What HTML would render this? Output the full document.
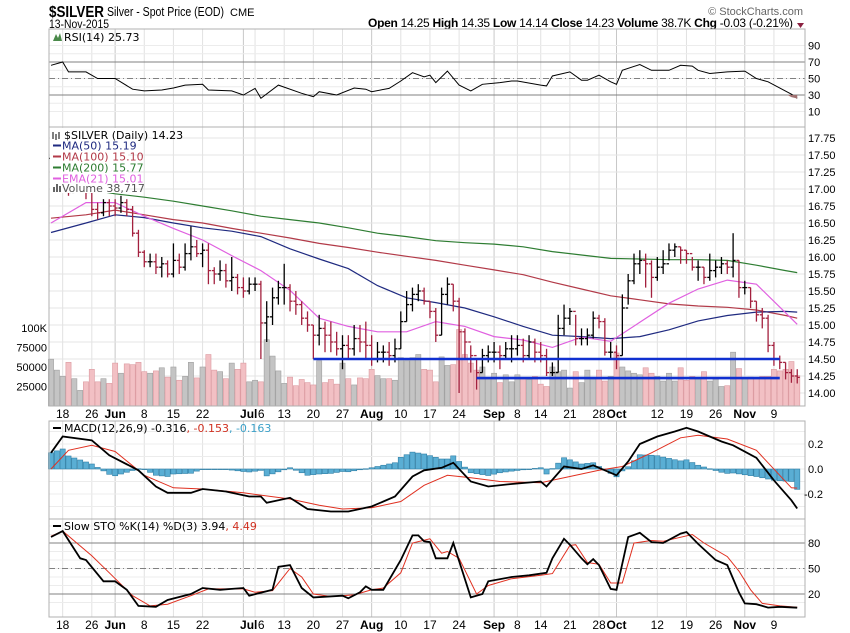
<!DOCTYPE html>
<html><head><meta charset="utf-8"><style>
html,body{margin:0;padding:0;background:#fff;}
svg{display:block;font-family:"Liberation Sans",Arial,sans-serif;}
.lg{font-family:"DejaVu Sans",Verdana,sans-serif;font-size:11px;}
</style></head><body>
<svg id="chart" width="850" height="633" viewBox="0 0 850 633">
<rect x="0" y="0" width="850" height="633" fill="#fff"/>
<text x="49" y="17" font-size="16" font-weight="bold" textLength="55" lengthAdjust="spacingAndGlyphs">$SILVER</text>
<text x="107" y="16" font-size="13" textLength="117" lengthAdjust="spacingAndGlyphs">Silver - Spot Price (EOD)</text>
<text x="230" y="16" font-size="11">CME</text>
<text x="49" y="28" font-size="12" textLength="60" lengthAdjust="spacingAndGlyphs">13-Nov-2015</text>
<text x="803" y="15" font-size="11" fill="#666" text-anchor="end">© StockCharts.com</text>
<text x="368" y="27" font-size="12" textLength="425" lengthAdjust="spacing"><tspan font-weight="bold">Open</tspan> 14.25 <tspan font-weight="bold">High</tspan> 14.35 <tspan font-weight="bold">Low</tspan> 14.14 <tspan font-weight="bold">Close</tspan> 14.23 <tspan font-weight="bold">Volume</tspan> 38.7K <tspan font-weight="bold">Chg</tspan> -0.03 (-0.21%)</text>
<path d="M797 23 L804 23 L800.5 28 Z" fill="#8b2040"/>
</svg>
<script>
// ---- data ----
const closes=[17.45,17.55,17.6,16.95,17.1,17.1,16.95,16.7,16.65,16.8,16.75,
16.72,16.8,16.7,16.35,16.07,15.93,15.93,15.85,15.9,15.75,15.95,15.85,16.05,16.15,16.05,16.1,15.8,15.75,15.8,15.65,15.7,15.55,
15.5,15.6,15.6,15.03,15.12,15.4,15.55,15.55,15.35,15.3,15.1,15.0,14.85,14.95,14.85,14.75,14.65,14.7,14.65,14.8,14.75,14.7,
14.5,14.6,14.6,14.55,14.65,15.05,15.3,15.45,15.5,15.35,15.2,14.85,15.45,15.6,15.35,14.9,14.75,14.55,14.3,14.55,14.6,
14.6,14.55,14.65,14.65,14.7,14.55,14.75,14.6,14.55,14.3,14.3,14.95,15.1,15.2,14.8,14.8,14.85,15.1,15.05,14.6,14.6,
14.55,15.25,15.65,15.9,15.95,15.9,15.7,15.85,15.9,16.1,16.15,16.1,16.05,15.85,15.85,15.7,15.8,15.85,15.9,15.85,15.95,15.55,
15.55,15.35,15.15,15.1,14.7,14.5,14.45,14.3,14.25,14.23];
const highs=[17.6,17.65,17.7,17.4,17.2,17.2,17.15,16.95,16.8,16.85,16.85,
16.85,16.9,16.85,16.75,16.4,16.1,16.05,16.05,16.0,15.95,16.2,16.05,16.2,16.45,16.25,16.2,16.2,15.85,15.95,15.9,16.0,15.75,
15.7,15.7,15.7,15.65,15.35,15.55,15.65,15.9,15.6,15.5,15.35,15.2,15.0,15.15,15.05,15.05,14.9,14.85,14.85,15.0,15.0,15.05,
14.85,14.75,14.7,14.75,14.8,15.2,15.5,15.55,15.6,15.55,15.35,15.25,15.55,15.7,15.6,15.4,14.95,14.7,14.5,14.65,14.7,
14.75,14.7,14.75,14.85,14.85,14.8,14.85,14.8,14.75,14.65,14.45,15.15,15.3,15.25,15.15,14.95,14.95,15.2,15.15,15.1,14.75,
14.7,15.45,15.75,16.05,16.1,16.05,15.95,16.0,16.1,16.2,16.2,16.15,16.1,16.0,15.95,15.85,16.05,15.95,16.0,15.95,16.35,15.95,
15.65,15.55,15.35,15.25,15.15,14.75,14.55,14.45,14.35,14.35];
const lows=[17.35,17.4,17.45,16.9,16.95,16.95,16.85,16.6,16.55,16.6,16.6,
16.6,16.65,16.6,16.3,16.0,15.85,15.85,15.75,15.7,15.7,15.7,15.75,15.8,15.95,16.0,15.85,15.6,15.6,15.65,15.55,15.5,15.45,
15.4,15.45,15.5,14.5,14.75,15.0,15.3,15.3,15.2,15.15,15.0,14.9,14.5,14.7,14.6,14.6,14.55,14.35,14.5,14.55,14.6,14.5,
14.4,14.45,14.45,14.4,14.45,14.65,15.05,15.2,15.35,15.3,15.1,14.75,14.85,15.3,15.2,14.0,14.5,14.3,14.05,14.3,14.45,
14.45,14.35,14.5,14.45,14.55,14.45,14.5,14.45,14.45,14.25,14.25,14.3,14.85,15.0,14.7,14.7,14.7,14.8,14.95,14.55,14.5,
14.35,14.55,15.3,15.6,15.75,15.55,15.4,15.65,15.75,15.95,16.0,15.9,15.9,15.8,15.65,15.6,15.65,15.7,15.75,15.75,15.7,15.4,
15.45,15.25,15.05,14.95,14.6,14.4,14.35,14.2,14.15,14.14];
const volumes=[60,46,38,56,35,20,31,47,31,35,29,
55,42,54,53,56,44,42,45,49,37,50,33,38,56,36,50,66,46,44,35,55,47,
55,31,33,31,85,64,45,29,37,26,34,30,27,58,30,34,28,55,35,27,36,35,
47,39,35,35,33,62,58,62,66,47,46,31,63,52,53,98,66,55,46,50,35,
42,30,40,31,40,36,34,38,28,25,50,44,46,23,44,30,46,36,46,32,38,
68,50,45,42,40,49,42,38,32,42,32,49,33,38,36,44,32,36,25,26,69,48,
36,37,35,38,38,47,45,47,57,39];
// moving averages sampled at bar indices
const maIdx=[0,6,11,16,21,26,31,36,41,46,51,56,61,66,71,76,81,86,91,96,101,106,111,116,121,126,128];
const ma50=[16.36,16.5,16.62,16.58,16.5,16.43,16.38,16.3,16.12,15.97,15.83,15.58,15.4,15.33,15.25,15.12,14.98,14.85,14.83,14.8,14.83,14.93,15.06,15.14,15.19,15.2,15.19];
const ma100=[16.57,16.62,16.69,16.62,16.55,16.5,16.42,16.35,16.28,16.2,16.14,16.07,16.01,15.95,15.88,15.81,15.74,15.63,15.53,15.43,15.37,15.31,15.28,15.26,15.22,15.14,15.10];
const ma200=[17.05,17.0,16.93,16.88,16.82,16.75,16.68,16.6,16.55,16.5,16.43,16.35,16.3,16.24,16.21,16.19,16.15,16.08,16.03,15.98,15.97,15.96,15.96,15.95,15.88,15.8,15.77];
const ema21=[16.5,16.8,16.8,16.6,16.42,16.25,16.02,15.8,15.51,15.1,14.98,14.9,14.9,15.05,14.98,14.83,14.78,14.67,14.82,14.76,15.04,15.32,15.53,15.66,15.6,15.18,15.01];
const rsiIdx=[0,2,3,6,8,11,14,16,19,21,23,26,27,31,33,35,36,39,43,45,46,49,52,54,55,58,60,62,64,65,66,68,70,72,74,77,79,80,84,85,86,89,91,92,94,96,97,98,101,103,106,108,110,111,113,116,119,121,123,127,128];
const rsiVal=[66,70,58,58,50,50,37,35,36,38.5,42,43,36,35,30,38,26,42,32,28,34,30,38.5,37,34,38,47,57,52,54,45,59,42,35,43,45,47,47,42,41,53,58,48,48,54,46,43,60,67,60,60,66,65,60,56,58,59,50,46,31,26];
const macdIdx=[0,2,7,10,15,18,20,24,26,30,34,36,37,41,44,48,51,55,59,62,64,67,69,72,75,79,84,85,88,91,93,97,99,101,104,107,109,111,115,117,121,124,127,128];
const macdVal=[0.13,0.26,0.23,0.11,-0.01,-0.14,-0.19,-0.19,-0.16,-0.18,-0.22,-0.22,-0.27,-0.23,-0.32,-0.34,-0.34,-0.30,-0.22,-0.06,-0.01,0.01,0.05,-0.1,-0.14,-0.12,-0.1,-0.14,0.02,0.0,0.03,-0.05,0.06,0.2,0.26,0.3,0.33,0.3,0.22,0.19,0.09,-0.09,-0.25,-0.316];
const sigIdx=[0,3,7,11,16,21,26,33,41,46,50,55,60,64,68,72,77,84,89,94,98,103,108,111,116,121,127,128];
const sigVal=[0.0,0.15,0.19,0.14,-0.05,-0.15,-0.16,-0.19,-0.24,-0.29,-0.32,-0.31,-0.26,-0.13,-0.05,-0.07,-0.1,-0.11,-0.06,-0.01,0.02,0.13,0.25,0.27,0.24,0.15,-0.15,-0.153];
const stoKIdx=[0,2,5,6,9,11,13,15,18,20,24,26,29,31,33,34,38,39,41,43,45,50,51,53,54,55,57,60,62,63,64,65,66,68,69,72,74,75,79,82,85,86,88,89,91,92,93,94,96,97,99,101,103,105,108,109,111,114,116,118,119,121,123,125,128];
const stoKVal=[87,94,62,60,35,35,25,6,5,13,20,27,25,26,27,18,25,52,54,27,16,18,15,22,29,25,25,60,89,89,82,81,62,62,80,16,20,35,40,42,45,62,85,78,62,55,61,54,26,25,87,92,81,80,91,93,79,60,54,22,9,8,4,5,3.94];
const stoDIdx=[0,2,7,10,14,17,20,24,27,33,35,38,41,43,45,48,52,55,57,60,62,65,67,68,70,73,75,79,84,86,89,90,92,94,96,98,100,103,105,110,112,116,118,120,122,125,128];
const stoDVal=[88,94,65,45,18,6,8,18,26,26,22,24,50,40,20,17,19,25,27,45,80,85,68,70,62,20,30,38,42,44,77,78,57,55,33,33,80,83,82,90,80,64,47,25,9,6,4.49];
const xLabels=['18','26','Jun','8','15','22','Jul','6','13','20','27','Aug','10','17','24','Sep','8','14','21','28','Oct','12','19','26','Nov','9'];
const xLabelIdx=[2,7,11,16,21,26,33,35,40,45,50,55,60,65,70,76,80,84,89,94,97,104,109,114,119,124];
const priceTicks=[14.00,14.25,14.50,14.75,15.00,15.25,15.50,15.75,16.00,16.25,16.50,16.75,17.00,17.25,17.50,17.75];
const volTicks=[25000,50000,75000,100000];
const volTickLabels=['25000','50000','75000','100K'];
const rsiTicks=[90,70,50,30,10];
const macdTicks=[0.2,0.0,-0.2];
const stoTicks=[80,50,20];
const support1=14.50, support1From=45, support1To=125;
const support2=14.22, support2From=73, support2To=125;

// ---- geometry ----
const NS='http://www.w3.org/2000/svg';
const svg=document.getElementById('chart');
const L=49,R=805;
const X=i=>51+i*5.83;
const yRSI=v=>62+(70-v)*0.825;
const yP=p=>393-(p-14)*68;
const yV=k=>406-k*0.78;
const yM=v=>469-v*125;
const yS=v=>611-v*0.85;
function mk(tag,attrs,parent){const e=document.createElementNS(NS,tag);for(const k in attrs)e.setAttribute(k,attrs[k]);(parent||svg).appendChild(e);return e;}
function interp(idx,val,i){if(i<=idx[0])return val[0];for(let k=1;k<idx.length;k++){if(i<=idx[k]){const t=(i-idx[k-1])/(idx[k]-idx[k-1]);return val[k-1]+t*(val[k]-val[k-1]);}}return val[val.length-1];}
function pathOf(idx,val,fy){return idx.map((ix,k)=>(k?'L':'M')+X(ix).toFixed(1)+' '+fy(val[k]).toFixed(1)).join(' ');}

const panels=[{t:29,b:127,n:'rsi-panel'},{t:127,b:406,n:'price-panel'},{t:421,b:519,n:'macd-panel'},{t:519,b:617,n:'sto-panel'}];
panels.forEach(p=>{xLabelIdx.forEach((ix,k)=>{
  const month=isNaN(+xLabels[k]);
  const g=mk('line',{x1:X(ix),x2:X(ix),y1:p.t,y2:p.b,stroke:month?'#c8c8c8':'#e2e2e2','stroke-width':1});
  
  
});});
for(let v=10;v<=90;v+=10){const g=mk('line',{x1:L,x2:R,y1:yRSI(v),y2:yRSI(v),stroke:'#ececec'});
  
  }
priceTicks.forEach(p=>{const g=mk('line',{x1:L,x2:R,y1:yP(p),y2:yP(p),stroke:'#e4e4e4'});
  
  });
[0.3,0.2,0.1,0,-0.1,-0.2,-0.3].forEach(v=>{const g=mk('line',{x1:L,x2:R,y1:yM(v),y2:yM(v),stroke:'#ececec'});
  
  });
for(let v=10;v<=100;v+=10){const g=mk('line',{x1:L,x2:R,y1:yS(v),y2:yS(v),stroke:'#ececec'});
  
  }
[[yRSI(70),''],[yRSI(30),''],[yRSI(50),'6 3 1 3'],[yS(80),''],[yS(20),''],[yS(50),'6 3 1 3']].forEach(r=>{
  const g=mk('line',{x1:L,x2:R,y1:r[0],y2:r[0],stroke:'#808080','stroke-dasharray':r[1]});
  
  });

volumes.forEach((v,i)=>{
  const down=i>0&&closes[i]<closes[i-1];
  const b=mk('rect',{x:X(i)-2.6,y:yV(v),width:5.2,height:406-yV(v),fill:down?'#f2c0c4':'#c4c4c4',stroke:down?'#dc9aa0':'#a0a0a0','stroke-width':0.6});
  
  
});
[[ma200,'#2e7d32','ma200-line'],[ma100,'#b23a48','ma100-line'],[ma50,'#1f2a80','ma50-line'],[ema21,'#e060e0','ema21-line']].forEach(s=>{
  const p=mk('path',{d:pathOf(maIdx,s[0],yP),fill:'none',stroke:s[1],'stroke-width':1.2});
  
  
});
closes.forEach((c,i)=>{
  const o=i>0?closes[i-1]:c;
  const col=(i>0&&c<closes[i-1])?'#a3203e':'#000';
  const g=mk('g',{stroke:col,'stroke-width':1.3});
  
  
  const x=X(i);
  mk('line',{x1:x,x2:x,y1:yP(highs[i]),y2:yP(lows[i])},g);
  mk('line',{x1:x-2.5,x2:x,y1:yP(o),y2:yP(o)},g);
  mk('line',{x1:x,x2:x+2.5,y1:yP(c),y2:yP(c)},g);
});
[[support1,support1From,support1To,'support-line-14-50'],[support2,support2From,support2To,'support-line-14-22']].forEach(s=>{
  const l=mk('line',{x1:X(s[1]),x2:X(s[2]),y1:yP(s[0]),y2:yP(s[0]),stroke:'#1030d0','stroke-width':2.6});
  
  
});
const rsiLine=mk('path',{d:pathOf(rsiIdx,rsiVal,yRSI),fill:'none',stroke:'#000','stroke-width':1});


const rsiFill=mk('path',{d:'M'+X(126.3)+' '+yRSI(30)+' L'+X(127)+' '+yRSI(27.5)+' L'+X(128)+' '+yRSI(25.73)+' L'+X(128)+' '+yRSI(30)+' Z',fill:'#a07070'});


for(let i=0;i<closes.length;i++){
  const h=interp(macdIdx,macdVal,i)-interp(sigIdx,sigVal,i);
  const y0=yM(0),y1=yM(h);
  const r=mk('rect',{x:X(i)-2.6,y:Math.min(y0,y1),width:5.2,height:Math.max(0.6,Math.abs(y1-y0)),fill:'#5aaed4',stroke:'#2f7fa6','stroke-width':0.6});
  
  
}
const sigLine=mk('path',{d:pathOf(sigIdx,sigVal,yM),fill:'none',stroke:'#e03020','stroke-width':1});


const macdLine=mk('path',{d:pathOf(macdIdx,macdVal,yM),fill:'none',stroke:'#000','stroke-width':1.8});


const dLine=mk('path',{d:pathOf(stoDIdx,stoDVal,yS),fill:'none',stroke:'#e03020','stroke-width':1});


const kLine=mk('path',{d:pathOf(stoKIdx,stoKVal,yS),fill:'none',stroke:'#000','stroke-width':1.8});



panels.forEach(p=>{const r=mk('rect',{x:L,y:p.t,width:R-L,height:p.b-p.t,fill:'none',stroke:'#b0b0b0'});
  
  });

function txt(x,y,s,attrs,name){const t=mk('text',Object.assign({x:x,y:y,'font-size':11},attrs||{}));t.textContent=s;
  
  return t;}
rsiTicks.forEach(v=>txt(808,yRSI(v)+4,String(v),{},'rsi-axis-label'));
priceTicks.forEach(p=>txt(808,yP(p)+4,p.toFixed(2),{},'price-axis-label'));
volTicks.forEach((v,k)=>txt(47,yV(v/1000)+4,volTickLabels[k],{'text-anchor':'end'},'volume-axis-label'));
macdTicks.forEach(v=>txt(v<0?804:808,yM(v)+4,v.toFixed(1),{},'macd-axis-label'));
stoTicks.forEach(v=>txt(808,yS(v)+4,String(v),{},'sto-axis-label'));
[418,629].forEach(yy=>xLabelIdx.forEach((ix,k)=>{
  const month=isNaN(+xLabels[k]);
  let xx=X(ix), anchor='middle';
  if(xLabels[k]==='Jul'){xx=X(ix)+14;anchor='end';}
  if(xLabels[k]==='6'&&k===7){xx=X(33)+14.5;anchor='start';}
  txt(xx,yy,xLabels[k],{'text-anchor':anchor,'font-size':12,'font-weight':month?'bold':'normal'},'x-axis-label');
}));

const lb=mk('rect',{x:50,y:128,width:78,height:65,fill:'#fff'});


function leg(x,y,s,col,name){const t=mk('text',{x:x,y:y,'class':'lg',fill:col});t.textContent=s;
  
  return t;}
mk('path',{d:'M53 41 L56 34 L58 38 L60 33 L62 41 Z',fill:'#4a8a4a'});
leg(64,41,'RSI(14) 25.73','#000','rsi-legend');
leg(64,139,'$SILVER (Daily) 14.23','#000','price-legend');
mk('path',{d:'M53 132 v7 M56 134 v6 M59 132 v7',stroke:'#000','stroke-width':1});
[['MA(50) 15.19','#1f2a80','ma50-legend',149.5],['MA(100) 15.10','#b23a48','ma100-legend',160.5],['MA(200) 15.77','#2e7d32','ma200-legend',171.5],['EMA(21) 15.01','#e060e0','ema21-legend',182.5]].forEach(l=>{
  const s=mk('line',{x1:53,x2:61,y1:l[3]-4,y2:l[3]-4,stroke:l[1],'stroke-width':2});
  
  
  leg(62,l[3],l[0],l[1],l[2]);
});
mk('path',{d:'M53 192 v-5 h2 v5 M56 192 v-8 h2 v8 M59 192 v-6 h2 v6',fill:'#666'});
leg(62,192,'Volume 38,717','#555','volume-legend');
mk('line',{x1:53,x2:61,y1:428,y2:428,stroke:'#000','stroke-width':2});
const ml=mk('text',{x:64,y:432,'class':'lg'});


ml.innerHTML='MACD(12,26,9) -0.316<tspan fill="#d03020">, -0.153</tspan><tspan fill="#3aa0c8">, -0.163</tspan>';
mk('line',{x1:53,x2:61,y1:526,y2:526,stroke:'#000','stroke-width':2});
const sl=mk('text',{x:64,y:530,'class':'lg'});


sl.innerHTML='Slow STO %K(14) %D(3) 3.94<tspan fill="#d03020">, 4.49</tspan>';
</script>
</body></html>
